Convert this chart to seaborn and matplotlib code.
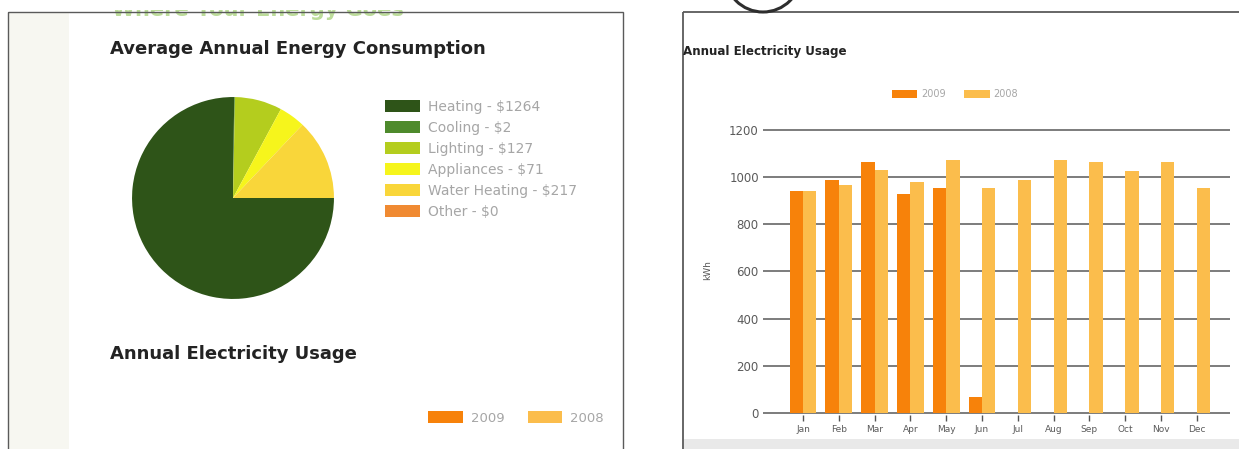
import numpy as np
import pandas as pd
import matplotlib
matplotlib.use("Agg")
import matplotlib.pyplot as plt
import seaborn as sns
from matplotlib.patches import Rectangle, Arc, Patch
from matplotlib.transforms import Affine2D

# ---- data -------------------------------------------------------------
end_uses = ["Heating", "Cooling", "Lighting", "Appliances", "Water Heating", "Other"]
end_use_cost = [1264, 2, 127, 71, 217, 0]
end_use_colors = ["#2e5418", "#4e8a2c", "#b4cd1e", "#f6f51c", "#f9d63a", "#f08a32"]

months = ["Jan", "Feb", "Mar", "Apr", "May", "Jun",
          "Jul", "Aug", "Sep", "Oct", "Nov", "Dec"]
kwh_2009 = [941, 987, 1061, 926, 951, 68,
            np.nan, np.nan, np.nan, np.nan, np.nan, np.nan]
kwh_2008 = [940, 967, 1029, 977, 1073, 951,
            987, 1073, 1061, 1026, 1061, 951]
years = ["2009", "2008"]
year_colors = ["#f7820a", "#fbbd4c"]
y_ticks = [0, 200, 400, 600, 800, 1000, 1200]

# ---- figure in pixel units (origin top-left) --------------------------
W, H = 1239, 449
sns.set_theme(style="white")
plt.rcParams["font.family"] = ["DejaVu Sans"]
fig = plt.figure(figsize=(W / 100, H / 100), dpi=100)
fig.patch.set_facecolor("white")
pix = Affine2D().scale(1 / W, -1 / H).translate(0, 1) + fig.transFigure


def ax_rect(x0, y0, x1, y1):
    return [x0 / W, 1 - y1 / H, (x1 - x0) / W, (y1 - y0) / H]


def add(patch):
    patch.set_transform(pix)
    fig.add_artist(patch)
    return patch


# page decoration: side strip, frames, footer band, icon edge
add(Rectangle((9, 13), 60, 440, facecolor="#f7f7f1", edgecolor="none", zorder=0))
fig.text(112, 16, "Where Your Energy Goes", transform=pix, fontsize=15,
         fontweight="bold", color="#bcdc9a", va="baseline", zorder=1)
add(Rectangle((0, 0), 640, 10, facecolor="white", edgecolor="none", zorder=2))
add(Rectangle((8, 12), 615, 450, facecolor="none", edgecolor="#5a5a5a",
              linewidth=1.0, zorder=3))
add(Rectangle((683, 12), 600, 450, facecolor="none", edgecolor="#5a5a5a",
              linewidth=1.3, zorder=3))
add(Rectangle((684, 439), 560, 12, facecolor="#e9e9e9", edgecolor="none", zorder=2))
add(Arc((763, -26), 76, 76, theta1=0, theta2=180, color="#2e2e2e",
        linewidth=2.2, zorder=3))

# ---- pie: average annual energy consumption --------------------------
fig.text(110, 49, "Average Annual Energy Consumption", transform=pix,
         fontsize=13, fontweight="bold", color="#232323", va="center")

ax_pie = fig.add_axes(ax_rect(128, 93, 338, 303))
wedges, _ = ax_pie.pie(end_use_cost, colors=end_use_colors, startangle=0,
                       counterclock=False, radius=1.0,
                       wedgeprops=dict(linewidth=0))
ax_pie.set_xlim(-1.04, 1.04)
ax_pie.set_ylim(-1.04, 1.04)
ax_pie.set_aspect("equal")
ax_pie.axis("off")

pie_labels = [f"{n} - \\${v}" for n, v in zip(end_uses, end_use_cost)]
leg_handles = [Patch(facecolor=c, edgecolor="none") for c in end_use_colors]
fig.legend(leg_handles, pie_labels, loc="upper left",
           bbox_to_anchor=(385 / W, 1 - 100 / H), frameon=False,
           fontsize=10, labelcolor="#a6a6a6", handlelength=2.55,
           handleheight=0.9, handletextpad=0.55, labelspacing=0.5,
           borderpad=0, borderaxespad=0)

# second chart heading and its legend on the left page
fig.text(110, 354, "Annual Electricity Usage", transform=pix,
         fontsize=13, fontweight="bold", color="#232323", va="center")
year_handles = [Patch(facecolor=c, edgecolor="none") for c in year_colors]
fig.legend(year_handles, years, loc="center", ncol=2,
           bbox_to_anchor=(516 / W, 1 - 418 / H), frameon=False,
           fontsize=9.5, labelcolor="#a6a6a6", handlelength=2.6,
           handleheight=0.95, handletextpad=0.6, columnspacing=1.8,
           borderpad=0)

# ---- bar chart: annual electricity usage -----------------------------
fig.text(683, 51, "Annual Electricity Usage", transform=pix,
         fontsize=8.6, fontweight="bold", color="#232323", va="center")

df = pd.DataFrame({
    "month": months * 2,
    "year": [years[0]] * 12 + [years[1]] * 12,
    "kwh": kwh_2009 + kwh_2008,
})

ax = fig.add_axes(ax_rect(763, 126.1, 1230, 414.9))
sns.barplot(data=df, x="month", y="kwh", hue="year", hue_order=years,
            order=months, palette=year_colors, width=0.75, saturation=1,
            errorbar=None, linewidth=0, legend=False, ax=ax, zorder=3)
ax.set_xlim(-1.117, 11.93)
ax.set_ylim(-8, 1215)
ax.set_yticks(y_ticks)
ax.yaxis.grid(True, color="#7c7c7c", linewidth=1.4, zorder=0)
ax.set_axisbelow(True)
for s in ax.spines.values():
    s.set_visible(False)
ax.tick_params(axis="y", length=0, pad=3, labelsize=8.5, labelcolor="#5a5a5a")
ax.tick_params(axis="x", length=4, width=1, color="#555555", pad=3,
               labelsize=6.5, labelcolor="#5a5a5a", bottom=True)
ax.set_xlabel("")
ax.set_ylabel("kWh", fontsize=6.5, color="#555555", labelpad=12)
ax.set_facecolor("none")

fig.legend(year_handles, years, loc="center", ncol=2,
           bbox_to_anchor=(955 / W, 1 - 94 / H), frameon=False,
           fontsize=7, labelcolor="#a6a6a6", handlelength=2.6,
           handleheight=0.9, handletextpad=0.4, columnspacing=1.9,
           borderpad=0)

fig.savefig("out.png", dpi=100, facecolor="white")
